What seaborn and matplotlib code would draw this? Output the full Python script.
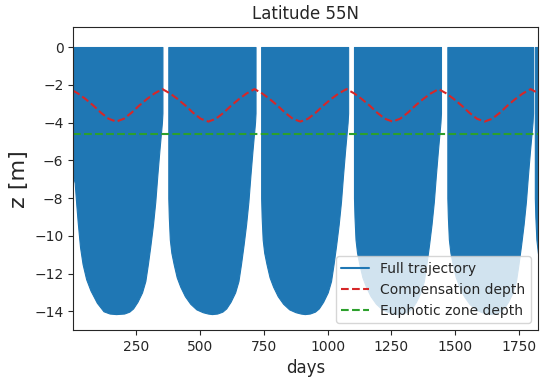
import matplotlib
matplotlib.use("Agg")
import matplotlib.pyplot as plt
import seaborn as sns
from matplotlib.lines import Line2D

# compensation depth [m], every 30 days
comp_days = [1, 21, 51, 81, 111, 141, 171, 201, 231, 261, 291, 321, 352,
             382, 412, 442, 472, 502, 532, 562, 592, 622, 652, 682, 713,
             743, 773, 803, 833, 863, 893, 923, 953, 983, 1013, 1043, 1074,
             1104, 1134, 1164, 1194, 1224, 1254, 1284, 1314, 1344, 1374, 1404, 1435,
             1465, 1495, 1525, 1555, 1585, 1615, 1645, 1675, 1705, 1735, 1765, 1796,
             1825]
comp_depth = [-2.31, -2.46, -2.76, -3.10, -3.48, -3.80, -3.95, -3.80, -3.48, -3.10, -2.76, -2.46, -2.23,
              -2.46, -2.76, -3.10, -3.48, -3.80, -3.95, -3.80, -3.48, -3.10, -2.76, -2.46, -2.23,
              -2.46, -2.76, -3.10, -3.48, -3.80, -3.95, -3.80, -3.48, -3.10, -2.76, -2.46, -2.23,
              -2.46, -2.76, -3.10, -3.48, -3.80, -3.95, -3.80, -3.48, -3.10, -2.76, -2.46, -2.23,
              -2.46, -2.76, -3.10, -3.48, -3.80, -3.95, -3.80, -3.48, -3.10, -2.76, -2.46, -2.23,
              -2.45]

# euphotic zone depth [m]
euph_days = [1, 1825]
euph_depth = [-4.62, -4.62]

# full trajectory: the particle swings between the surface and this
# (seasonal) deepest point, so it shows up as a solid band; one list per year
traj_days = [
    [1, 8, 14, 20, 29, 39, 53, 70, 95, 121, 145, 170,
     202, 222, 237, 254, 272, 285, 295, 305, 315, 324, 332, 340, 346, 350, 352],
    [375, 377, 381, 387, 396, 408, 422, 440, 461, 485, 510, 530, 546,
     567, 587, 602, 619, 637, 650, 660, 670, 680, 689, 697, 705, 711, 715, 717],
    [739, 741, 745, 751, 760, 772, 786, 804, 825, 849, 874, 894, 910,
     930, 950, 965, 982, 1000, 1013, 1023, 1033, 1043, 1052, 1060, 1068, 1074, 1078, 1080],
    [1103, 1105, 1109, 1115, 1124, 1136, 1150, 1168, 1189, 1213, 1238, 1258, 1274,
     1294, 1314, 1329, 1346, 1364, 1377, 1387, 1397, 1407, 1416, 1424, 1432, 1438, 1442, 1444],
    [1469, 1471, 1475, 1481, 1490, 1502, 1516, 1534, 1555, 1579, 1604, 1624, 1640,
     1655, 1675, 1690, 1707, 1725, 1738, 1748, 1758, 1768, 1777, 1785, 1793, 1799, 1803, 1805],
    [1812, 1814, 1818, 1824, 1825],
]
traj_depth = [
    [-6.8, -7.2, -8.3, -9.3, -10.6, -11.5, -12.3, -12.9, -13.55, -14.0, -14.12, -14.15,
     -14.12, -14.02, -13.85, -13.5, -13.0, -12.4, -11.5, -10.5, -9.4, -8.2, -6.8, -5.5, -4.6, -4.0, -3.5],
    [-8.0, -9.0, -10.2, -10.9, -11.5, -12.2, -12.7, -13.2, -13.6, -13.9, -14.05, -14.12, -14.15,
     -14.12, -14.02, -13.85, -13.5, -13.0, -12.4, -11.5, -10.5, -9.4, -8.2, -6.8, -5.5, -4.6, -4.0, -3.5],
    [-8.0, -9.0, -10.2, -10.9, -11.5, -12.2, -12.7, -13.2, -13.6, -13.9, -14.05, -14.12, -14.15,
     -14.12, -14.02, -13.85, -13.5, -13.0, -12.4, -11.5, -10.5, -9.4, -8.2, -6.8, -5.5, -4.6, -4.0, -3.5],
    [-8.0, -9.0, -10.2, -10.9, -11.5, -12.2, -12.7, -13.2, -13.6, -13.9, -14.05, -14.12, -14.15,
     -14.12, -14.02, -13.85, -13.5, -13.0, -12.4, -11.5, -10.5, -9.4, -8.2, -6.8, -5.5, -4.6, -4.0, -3.5],
    [-8.0, -9.0, -10.2, -10.9, -11.5, -12.2, -12.7, -13.2, -13.6, -13.9, -14.05, -14.12, -14.15,
     -14.12, -14.02, -13.85, -13.5, -13.0, -12.4, -11.5, -10.5, -9.4, -8.2, -6.8, -5.5, -4.6, -4.0, -3.5],
    [-8.0, -9.0, -10.2, -10.9, -11.0],
]

sns.set_style("ticks")
plt.rcParams["font.family"] = ["DejaVu Sans"]

fig, ax = plt.subplots(figsize=(5.5, 3.83), dpi=100)
fig.subplots_adjust(left=0.133, right=0.978, top=0.929, bottom=0.138)

blue = "#1f77b4"
for d, z in zip(traj_days, traj_depth):
    ax.fill_between(d, 0, z, color=blue, lw=0.8)

sns.lineplot(x=comp_days, y=comp_depth, ax=ax, color="#d62728",
             linestyle="--", lw=1.5)
sns.lineplot(x=euph_days, y=euph_depth, ax=ax, color="#2ca02c",
             linestyle="--", lw=1.5)

ax.set_xlim(2, 1824)
ax.set_ylim(-15.0, 1.05)
ax.set_xticks([250, 500, 750, 1000, 1250, 1500, 1750])
ax.set_yticks([0, -2, -4, -6, -8, -10, -12, -14])

ax.set_title("Latitude 55N", fontsize=12)
ax.set_xlabel("days", fontsize=12)
ax.set_ylabel("z [m]", fontsize=16)

handles = [
    Line2D([], [], color=blue, lw=1.5, label="Full trajectory"),
    Line2D([], [], color="#d62728", lw=1.5, ls="--", label="Compensation depth"),
    Line2D([], [], color="#2ca02c", lw=1.5, ls="--", label="Euphotic zone depth"),
]
ax.legend(handles=handles, loc="lower right", fontsize=10)

fig.savefig("out.png", dpi=100)
